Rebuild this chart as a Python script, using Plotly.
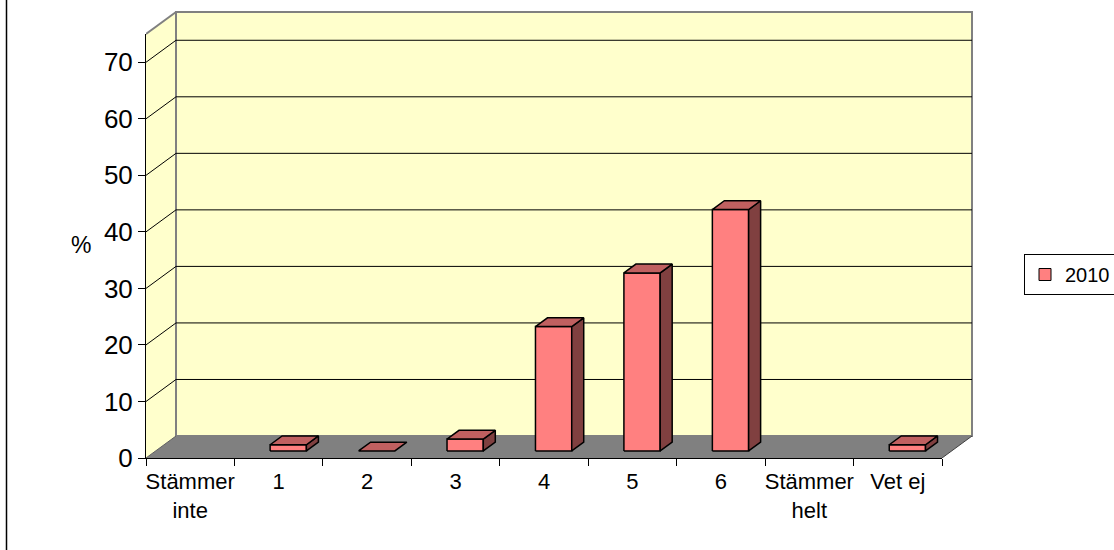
import plotly.graph_objects as go

# ---------------- data ----------------
categories = ["Stämmer<br>inte", "1", "2", "3", "4", "5", "6", "Stämmer<br>helt", "Vet ej"]
values_2010 = [None, 1.1, 0.0, 2.1, 22.0, 31.5, 42.7, None, 1.1]
y_tick_values = [0, 10, 20, 30, 40, 50, 60, 70]
series_name = "2010"
y_axis_title = "%"

# ---------------- geometry / style ----------------
W_FIG, H_FIG = 1114, 550
ORIGIN_X, ORIGIN_Y = 146, 458          # front-left-bottom corner in pixels
PLOT_RIGHT, PLOT_TOP = 976, 8          # extent of drawing subplot
AXIS_MAX = 75
N = len(categories)
PX_PER_CAT = (942 - 146) / N
PX_PER_UNIT = (458 - 34) / AXIS_MAX
DEPTH_PX_X, DEPTH_PX_Y = 30, 22
DX = DEPTH_PX_X / PX_PER_CAT
DY = DEPTH_PX_Y / PX_PER_UNIT

plot_w = PLOT_RIGHT - ORIGIN_X
plot_h = ORIGIN_Y - PLOT_TOP
x_max = plot_w / PX_PER_CAT
y_max = plot_h / PX_PER_UNIT

WALL = "#FFFFCC"
FLOOR = "#808080"
EDGE = "#808080"
FRONT = "#FF8080"
TOP = "#C06060"
SIDE = "#804040"
FONT = "Liberation Sans, Arial, sans-serif"

BAR_X0, BAR_X1 = 0.295, 0.705
Z0, Z1 = 0.32, 0.72


def P(x, v, z):
    return x + z * DX, v + z * DY


def path(points):
    s = "M " + " L ".join(f"{x},{y}" for x, y in points) + " Z"
    return s


shapes = []
# left wall
shapes.append(dict(type="path", xref="x", yref="y", layer="below",
                   path=path([P(0, 0, 0), P(0, AXIS_MAX, 0), P(0, AXIS_MAX, 1), P(0, 0, 1)]),
                   fillcolor=WALL, line=dict(width=0)))
# back wall
shapes.append(dict(type="path", xref="x", yref="y", layer="below",
                   path=path([P(0, 0, 1), P(0, AXIS_MAX, 1), P(N, AXIS_MAX, 1), P(N, 0, 1)]),
                   fillcolor=WALL, line=dict(color=EDGE, width=2)))
# floor
shapes.append(dict(type="path", xref="x", yref="y", layer="below",
                   path=path([P(0, 0, 0), P(0, 0, 1), P(N, 0, 1), P(N, 0, 0)]),
                   fillcolor=FLOOR, line=dict(width=0)))
# left wall top edge
(a, b), (c, d) = P(0, AXIS_MAX, 0), P(0, AXIS_MAX, 1)
shapes.append(dict(type="line", xref="x", yref="y", layer="below",
                   x0=a, y0=b, x1=c, y1=d, line=dict(color=EDGE, width=2)))
# floor right diagonal
(a, b), (c, d) = P(N, 0, 0), P(N, 0, 1)
shapes.append(dict(type="line", xref="x", yref="y", layer="below",
                   x0=a, y0=b, x1=c, y1=d, line=dict(color="#404040", width=1)))
# floor left diagonal
(a, b), (c, d) = P(0, 0, 0), P(0, 0, 1)
shapes.append(dict(type="line", xref="x", yref="y", layer="below",
                   x0=a, y0=b, x1=c, y1=d, line=dict(color="#606060", width=1)))
# gridlines (left wall diagonal + back wall horizontal)
for v in y_tick_values[1:]:
    (a, b), (c, d) = P(0, v, 0), P(0, v, 1)
    shapes.append(dict(type="line", xref="x", yref="y", layer="below",
                       x0=a, y0=b, x1=c, y1=d, line=dict(color="black", width=1)))
    (a, b), (c, d) = P(0, v, 1), P(N, v, 1)
    shapes.append(dict(type="line", xref="x", yref="y", layer="below",
                       x0=a, y0=b, x1=c, y1=d, line=dict(color="black", width=1)))
# outer chart border (left edge)
bx = (6.5 - ORIGIN_X) / plot_w
shapes.append(dict(type="line", xref="paper", yref="paper", x0=bx, x1=bx, y0=-0.3, y1=1.1,
                   line=dict(color="black", width=1.5)))

fig = go.Figure()


def face(points, color):
    xs = [p[0] for p in points] + [points[0][0]]
    ys = [p[1] for p in points] + [points[0][1]]
    fig.add_trace(go.Scatter(x=xs, y=ys, mode="lines", fill="toself", fillcolor=color,
                             line=dict(color="black", width=1.5), showlegend=False,
                             hoverinfo="skip", xaxis="x", yaxis="y"))


for i, v in enumerate(values_2010):
    if v is None:
        continue
    x0, x1 = i + BAR_X0, i + BAR_X1
    if v > 0:
        face([P(x0, 0, Z0), P(x1, 0, Z0), P(x1, v, Z0), P(x0, v, Z0)], FRONT)
        face([P(x1, 0, Z0), P(x1, 0, Z1), P(x1, v, Z1), P(x1, v, Z0)], SIDE)
    face([P(x0, v, Z0), P(x1, v, Z0), P(x1, v, Z1), P(x0, v, Z1)], TOP)

# legend entry
fig.add_trace(go.Scatter(x=[None], y=[None], mode="markers", name=series_name,
                         marker=dict(symbol="square", size=12, color=FRONT,
                                     line=dict(color="black", width=1)),
                         xaxis="x", yaxis="y"))
# frame axes (front axes) subplot
fig.add_trace(go.Scatter(x=[None], y=[None], mode="markers", showlegend=False,
                         hoverinfo="skip", xaxis="x2", yaxis="y2"))

fig.update_layout(
    width=W_FIG, height=H_FIG,
    margin=dict(l=ORIGIN_X, r=W_FIG - PLOT_RIGHT, t=PLOT_TOP, b=H_FIG - ORIGIN_Y, autoexpand=False),
    paper_bgcolor="white", plot_bgcolor="rgba(0,0,0,0)",
    font=dict(family=FONT, color="black"),
    shapes=shapes,
    xaxis=dict(domain=[0, 1], range=[0, x_max], visible=False, fixedrange=True),
    yaxis=dict(domain=[0, 1], range=[0, y_max], visible=False, fixedrange=True),
    xaxis2=dict(domain=[0, N * PX_PER_CAT / plot_w], range=[0, N], anchor="y2",
                showline=True, linecolor="black", linewidth=1, showgrid=False, zeroline=False,
                tickmode="array", tickvals=[i + 0.5 for i in range(N)], ticktext=categories,
                ticks="", tickfont=dict(size=22, family=FONT), ticklabelstandoff=4,
                minor=dict(tickmode="array", tickvals=list(range(N + 1)), ticks="outside",
                           ticklen=7, tickcolor="black", tickwidth=1, showgrid=False),
                fixedrange=True),
    yaxis2=dict(domain=[0, AXIS_MAX * PX_PER_UNIT / plot_h], range=[0, AXIS_MAX], anchor="x2",
                showline=True, linecolor="black", linewidth=1, showgrid=False, zeroline=False,
                tickmode="array", tickvals=y_tick_values, ticks="outside", ticklen=7,
                tickcolor="black", tickfont=dict(size=26, family=FONT), fixedrange=True),
    legend=dict(x=(1024 - ORIGIN_X) / plot_w, y=(ORIGIN_Y - 254) / plot_h,
                xanchor="left", yanchor="top", bgcolor="white", bordercolor="black",
                borderwidth=1, font=dict(size=20, family=FONT)),
    annotations=[dict(text=y_axis_title, xref="paper", yref="paper",
                      x=(80.5 - ORIGIN_X) / plot_w, y=(ORIGIN_Y - 244.7) / plot_h,
                      xanchor="center", yanchor="middle",
                      showarrow=False, font=dict(size=23, family=FONT))],
    showlegend=True,
)

fig.write_html("out.html", config={"displayModeBar": False},
               post_script="document.body.style.margin='0';")
